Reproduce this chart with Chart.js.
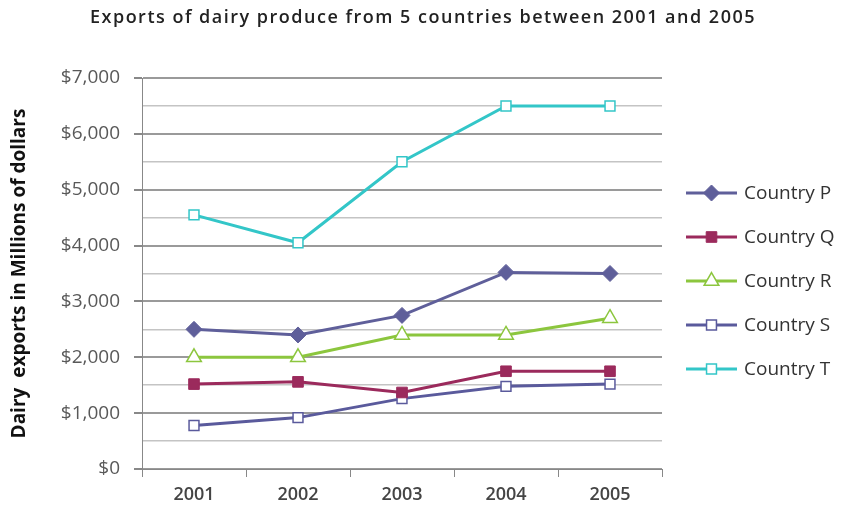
<!DOCTYPE html>
<html>
<head>
<meta charset="utf-8">
<script src="https://cdn.jsdelivr.net/npm/chart.js@4.4.1/dist/chart.umd.min.js"></script>
<style>
  html, body { margin: 0; padding: 0; background: #fff; }
  #wrap { width: 844px; height: 518px; }
</style>
</head>
<body>
<div id="wrap"><canvas id="grafico"></canvas></div>
<script>
// anos e valores (milhoes de dolares)
const anos = ['2001', '2002', '2003', '2004', '2005']
const paisP = [2500, 2400, 2750, 3520, 3500]
const paisQ = [1520, 1560, 1370, 1750, 1750]
const paisR = [2000, 2000, 2400, 2400, 2700]
const paisS = [780, 920, 1260, 1480, 1520]
const paisT = [4550, 4050, 5500, 6500, 6500]

const titulo = 'Exports of dairy produce from 5 countries between 2001 and 2005'
const fonte = "'Open Sans', 'DejaVu Sans', sans-serif"

// titulo e legenda lateral (linha + marcador + nome)
const extras = {
	id: 'extras',
	afterDraw(chart) {
		const ctx = chart.ctx

		ctx.save()
		ctx.fillStyle = '#222'
		ctx.font = '600 18px ' + fonte
		ctx.letterSpacing = '1.5px'
		ctx.textAlign = 'center'
		ctx.textBaseline = 'middle'
		ctx.fillText(titulo, 423, 18)
		ctx.restore()

		const x0 = 686, x1 = 737, yIni = 193, passo = 44
		chart.data.datasets.forEach((ds, i) => {
			const y = yIni + i * passo
			ctx.save()
			ctx.strokeStyle = ds.borderColor
			ctx.lineWidth = ds.borderWidth
			ctx.beginPath()
			ctx.moveTo(x0, y)
			ctx.lineTo(x1, y)
			ctx.stroke()

			ctx.fillStyle = ds.pointBackgroundColor
			ctx.strokeStyle = ds.pointBorderColor
			ctx.lineWidth = ds.pointBorderWidth
			Chart.helpers.drawPoint(ctx, {
				pointStyle: ds.pointStyle,
				radius: ds.pointRadius,
				rotation: 0,
				borderWidth: ds.pointBorderWidth
			}, (x0 + x1) / 2, y)

			ctx.fillStyle = '#333'
			ctx.font = '19px ' + fonte
			ctx.textBaseline = 'middle'
			ctx.fillText(ds.label, 744, y + 1)
			ctx.restore()
		})
	}
}

function serie(nome, dados, cor, estilo, raio, cheio) {
	return {
		label: nome,
		data: dados,
		borderColor: cor,
		borderWidth: 3,
		pointStyle: estilo,
		pointRadius: raio,
		pointHoverRadius: raio,
		pointBackgroundColor: cheio ? cor : '#fff',
		pointBorderColor: cor,
		pointBorderWidth: cheio ? 1 : 1.5,
		tension: 0
	}
}

const ehMil = (c) => c.tick && c.tick.value % 1000 === 0

const ctx = document.getElementById('grafico').getContext('2d')

const grafico = new Chart(ctx, {
	type: 'line',
	data: {
		labels: anos,
		datasets: [
			serie('Country P', paisP, '#5f5f9a', 'rectRot', 8, true),
			serie('Country Q', paisQ, '#9b2a5c', 'rect', 7.5, true),
			serie('Country R', paisR, '#8cc63e', 'triangle', 8.5, false),
			serie('Country S', paisS, '#5a5a9c', 'rect', 7, false),
			serie('Country T', paisT, '#33c6c8', 'rect', 7, false)
		]
	},
	options: {
		responsive: true,
		maintainAspectRatio: false,
		animation: false,
		layout: {
			padding: { left: 0, right: 182, top: 78, bottom: 0 }
		},
		scales: {
			x: {
				offset: true,
				afterFit: (s) => { s.height = 49 },
				grid: {
					offset: true,
					drawOnChartArea: false,
					tickLength: 8,
					color: '#888'
				},
				border: { color: '#888', width: 1 },
				ticks: {
					padding: 7,
					color: '#444',
					font: { family: fonte, size: 18, weight: '600' }
				}
			},
			y: {
				min: 0,
				max: 7000,
				afterFit: (s) => { s.width = 142 },
				grid: {
					tickLength: 8,
					color: (c) => ehMil(c) ? '#9a9a9a' : '#c4c4c4',
					lineWidth: (c) => ehMil(c) ? 2 : 1.5,
					tickColor: (c) => ehMil(c) ? '#888' : 'rgba(0,0,0,0)'
				},
				border: { color: '#888', width: 1 },
				ticks: {
					stepSize: 500,
					padding: 14,
					color: '#595959',
					font: { family: fonte, size: 19 },
					callback: (v) => v % 1000 === 0 ? '$' + v.toLocaleString('en-US') : ''
				},
				title: {
					display: true,
					text: 'Dairy  exports in Millions of dollars',
					color: '#111',
					padding: { top: 8, bottom: 0 },
					font: { family: fonte, size: 19, weight: 'bold' }
				}
			}
		},
		plugins: {
			legend: { display: false },
			tooltip: { enabled: false },
			title: { display: false }
		}
	},
	plugins: [extras]
})
</script>
</body>
</html>
